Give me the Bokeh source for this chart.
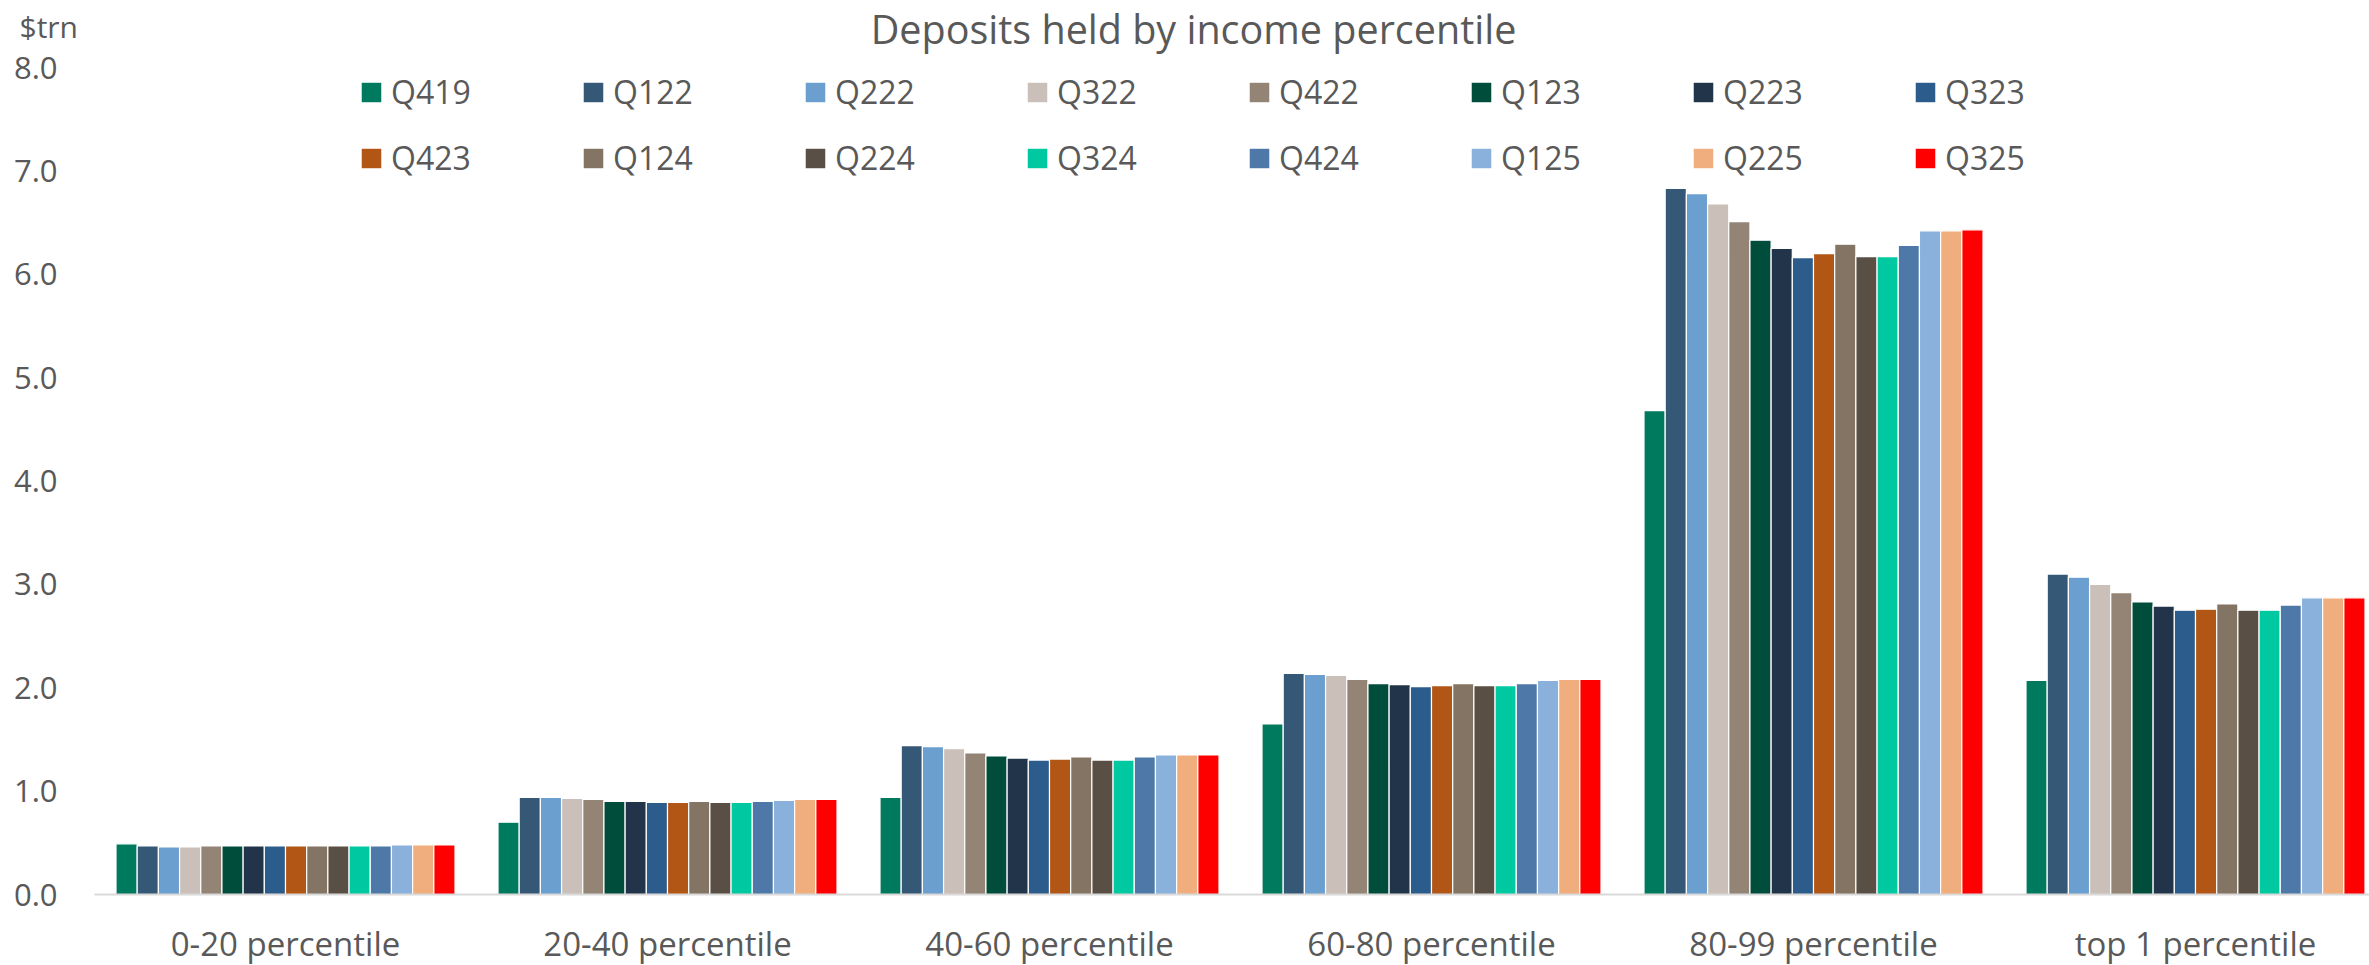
from bokeh.plotting import figure
from bokeh.models import (ColumnDataSource, Range1d, FixedTicker,
                          PrintfTickFormatter, Legend, LegendItem, Label)
from bokeh.transform import dodge
from bokeh.embed import file_html
from bokeh.resources import INLINE

categories = ["0-20 percentile", "20-40 percentile", "40-60 percentile",
              "60-80 percentile", "80-99 percentile", "top 1 percentile"]
quarters = ["Q419", "Q122", "Q222", "Q322", "Q422", "Q123", "Q223", "Q323",
            "Q423", "Q124", "Q224", "Q324", "Q424", "Q125", "Q225", "Q325"]

Q419 = [0.49, 0.70, 0.94, 1.65, 4.68, 2.07]
Q122 = [0.47, 0.94, 1.44, 2.14, 6.83, 3.10]
Q222 = [0.46, 0.94, 1.43, 2.13, 6.78, 3.07]
Q322 = [0.46, 0.93, 1.41, 2.12, 6.68, 3.00]
Q422 = [0.47, 0.92, 1.37, 2.08, 6.51, 2.92]
Q123 = [0.47, 0.90, 1.34, 2.04, 6.33, 2.83]
Q223 = [0.47, 0.90, 1.32, 2.03, 6.25, 2.79]
Q323 = [0.47, 0.89, 1.30, 2.01, 6.16, 2.75]
Q423 = [0.47, 0.89, 1.31, 2.02, 6.20, 2.76]
Q124 = [0.47, 0.90, 1.33, 2.04, 6.29, 2.81]
Q224 = [0.47, 0.89, 1.30, 2.02, 6.17, 2.75]
Q324 = [0.47, 0.89, 1.30, 2.02, 6.17, 2.75]
Q424 = [0.47, 0.90, 1.33, 2.04, 6.28, 2.80]
Q125 = [0.48, 0.91, 1.35, 2.07, 6.42, 2.87]
Q225 = [0.48, 0.92, 1.35, 2.08, 6.42, 2.87]
Q325 = [0.48, 0.92, 1.35, 2.08, 6.43, 2.87]

series = [Q419, Q122, Q222, Q322, Q422, Q123, Q223, Q323,
          Q423, Q124, Q224, Q324, Q424, Q125, Q225, Q325]

colors = ["#007A5E", "#365877", "#6A9FD0", "#CAC0B9", "#938476", "#004D3C",
          "#223449", "#2C5C8C", "#B25616", "#847463", "#5A4F45", "#00C8A0",
          "#4D78A7", "#8AB1DB", "#F0AE7E", "#FF0000"]

y_ticks = [0, 1, 2, 3, 4, 5, 6, 7, 8]

FONT = "Open Sans"
TXT = "#595959"

# category centres on a numeric axis (the chart is cut off at the right edge)
xc = [i + 0.5 for i in range(len(categories))]
data = {"xc": xc}
for q, s in zip(quarters, series):
    data[q] = s
source = ColumnDataSource(data)

W, FRAME_H = 2369, 894
PLOT_LEFT = 94           # where the category axis begins, in pixels
GROUP_PX, UNIT_PX = 382.0, 103.375
x_start = -PLOT_LEFT / GROUP_PX
x_end = (W - PLOT_LEFT) / GROUP_PX

p = figure(x_range=Range1d(x_start, x_end),
           y_range=Range1d(0, FRAME_H / UNIT_PX),
           frame_width=W, frame_height=FRAME_H,
           min_border_left=0, min_border_right=0,
           min_border_top=0, min_border_bottom=71,
           output_backend="svg", toolbar_location=None, title=None)

step = 339.0 / GROUP_PX / 16
renderers = []
for i, (q, c) in enumerate(zip(quarters, colors)):
    r = p.vbar(x=dodge("xc", (i - 7.5) * step), top=q,
               width=step, source=source, fill_color=c,
               line_color="white", line_width=1.2)
    renderers.append(r)

p.xgrid.grid_line_color = None
p.ygrid.grid_line_color = None
p.outline_line_color = None
p.background_fill_color = "white"
p.border_fill_color = "white"

p.yaxis.ticker = FixedTicker(ticks=y_ticks)
p.yaxis.formatter = PrintfTickFormatter(format="%.1f")
p.yaxis.axis_line_color = None
p.yaxis.major_tick_line_color = None
p.yaxis.minor_tick_line_color = None
p.yaxis.major_tick_out = 0
p.yaxis.major_tick_in = 0
p.yaxis.major_label_text_font = FONT
p.yaxis.major_label_text_font_size = "31px"
p.yaxis.major_label_text_color = TXT
p.yaxis.major_label_standoff = -57

p.xaxis.ticker = FixedTicker(ticks=xc)
p.xaxis.bounds = (0, x_end)
p.xaxis.major_label_overrides = {x: c for x, c in zip(xc, categories)}
p.xaxis.axis_line_color = "#D9D9D9"
p.xaxis.axis_line_width = 2
p.xaxis.major_tick_line_color = None
p.xaxis.minor_tick_line_color = None
p.xaxis.major_label_text_font = FONT
p.xaxis.major_label_text_font_size = "33px"
p.xaxis.major_label_text_color = TXT
p.xaxis.major_label_standoff = 20

for row in range(2):
    items = [LegendItem(label=quarters[k], renderers=[renderers[k]])
             for k in range(row * 8, row * 8 + 8)]
    leg = Legend(items=items, orientation="horizontal",
                 location=(358, 781 - row * 66),
                 glyph_width=26, glyph_height=26, label_standoff=7,
                 label_width=168, spacing=21, padding=0, margin=0,
                 border_line_color=None, background_fill_alpha=0,
                 label_text_font=FONT, label_text_font_size="32px",
                 label_text_color=TXT)
    p.add_layout(leg, "center")

p.add_layout(Label(x=19, y=868, x_units="screen", y_units="screen",
                   text="$trn", text_font=FONT, text_font_size="30px",
                   text_color=TXT, text_baseline="middle"))
p.add_layout(Label(x=1193, y=866, x_units="screen", y_units="screen",
                   text="Deposits held by income percentile", text_font=FONT,
                   text_font_size="39.5px", text_color=TXT,
                   text_align="center", text_baseline="middle"))

open("out.html", "w").write(file_html(p, INLINE))
